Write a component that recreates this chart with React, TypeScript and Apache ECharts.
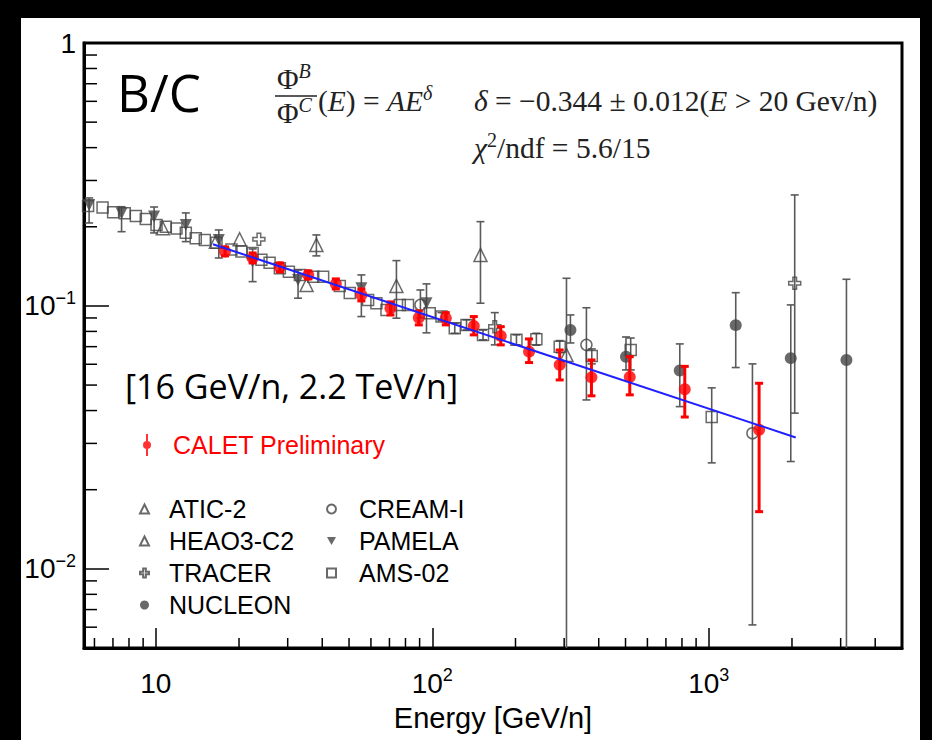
import React, { useEffect, useRef } from 'react';
import * as echarts from 'echarts';

// ---- axis ranges and minor tick positions ----
const X_RANGE = [5.5, 5000];
const Y_RANGE = [0.005, 1];
const X_MINOR = [6, 7, 8, 9, 20, 30, 40, 50, 60, 70, 80, 90, 200, 300, 400, 500, 600, 700, 800, 900, 2000, 3000, 4000];
const Y_MINOR = [0.006, 0.007, 0.008, 0.009, 0.02, 0.03, 0.04, 0.05, 0.06, 0.07, 0.08, 0.09, 0.2, 0.3, 0.4, 0.5, 0.6, 0.7, 0.8, 0.9];

// ---- B/C ratio measurements: points [E (GeV/n), B/C], error bars [E, low, high] ----
const caletPts = [
  [17.8, 0.161], [22.4, 0.152], [28.1, 0.1404], [35.6, 0.1312], [44.8, 0.1213], [55.4, 0.110],
  [70.6, 0.098], [89.4, 0.0902], [111.9, 0.0898], [141.3, 0.0839], [176.9, 0.0769], [223.9, 0.067],
  [289, 0.0597], [376.5, 0.0535], [518, 0.0537], [819, 0.0482], [1521, 0.0338],
];
const caletErr = [
  [17.8, 0.155, 0.1676], [22.4, 0.1457, 0.159], [28.1, 0.1347, 0.1457], [35.6, 0.1267, 0.1358],
  [44.8, 0.116, 0.1267], [55.4, 0.1045, 0.116], [70.6, 0.0924, 0.1036], [89.4, 0.0847, 0.0957],
  [111.9, 0.0847, 0.0943], [141.3, 0.0776, 0.0911], [176.9, 0.0711, 0.0834], [223.9, 0.0609, 0.0749],
  [289, 0.0523, 0.068], [376.5, 0.0455, 0.0623], [518, 0.0459, 0.0641], [819, 0.0378, 0.0589],
  [1521, 0.0165, 0.0508],
];

const amsPts = [
  [5.69, 0.240], [6.42, 0.237], [7.01, 0.227], [7.72, 0.225], [8.47, 0.220], [9.2, 0.214],
  [10.06, 0.203], [10.87, 0.200], [11.88, 0.197], [12.84, 0.190], [13.95, 0.181], [15.04, 0.178],
  [16.58, 0.174], [18.78, 0.164], [20.4, 0.161], [22.4, 0.159], [24.1, 0.150], [25.8, 0.146],
  [28.1, 0.139], [30.3, 0.135], [33.2, 0.131], [37.1, 0.129], [40.3, 0.129], [46.3, 0.119],
  [50.3, 0.112], [58.6, 0.1054], [62.8, 0.1024], [68.3, 0.0966], [76.3, 0.1009], [81.7, 0.1009],
  [97.9, 0.0938], [108, 0.0911], [120.6, 0.0823], [133, 0.0847], [152.6, 0.0776], [201.6, 0.0743],
  [238, 0.0747], [289, 0.070], [377.5, 0.0645], [522, 0.068], [1025, 0.0378],
];
const amsErr = [
  [108, 0.0879, 0.0943], [120.6, 0.0787, 0.0859], [133, 0.081, 0.0885], [152.6, 0.0743, 0.081],
  [201.6, 0.0711, 0.0776], [238, 0.0709, 0.0787], [289, 0.0664, 0.0738], [377.5, 0.0602, 0.0686],
  [522, 0.0571, 0.0755], [1025, 0.0253, 0.0488],
];

const pamelaPts = [
  [5.74, 0.2421], [7.52, 0.2252], [9.86, 0.2186], [12.84, 0.2032], [16.9, 0.1782],
  [22.4, 0.1474], [32.7, 0.1256], [55.4, 0.1168], [95.3, 0.1024],
];
const pamelaErr = [
  [5.74, 0.2068, 0.2574], [7.52, 0.1916, 0.2384], [9.86, 0.1895, 0.2378], [12.84, 0.1756, 0.2258],
  [16.9, 0.1522, 0.1945], [22.4, 0.1237, 0.1647], [32.7, 0.107, 0.137], [55.4, 0.0911, 0.1312],
  [95.3, 0.079, 0.1213],
];

const aticPts = [[20.1, 0.1793], [38.1, 0.1706], [74.2, 0.1191], [149.4, 0.1563], [305.8, 0.0651]];
const aticErr = [[38.1, 0.155, 0.1862], [74.2, 0.0898, 0.1487], [149.4, 0.1024, 0.2092], [305.8, 0.003, 0.1274]];

const heaoPts = [[10.6, 0.1974], [16.5, 0.1756], [35.1, 0.1202]];

const tracerPts = [[23.6, 0.1793], [168.3, 0.0834], [2046, 0.122]];
const tracerErr = [[168.3, 0.0711, 0.0943], [2046, 0.0391, 0.2643]];

const creamPts = [[90.6, 0.1009], [361, 0.0711], [1439, 0.0328]];
const creamErr = [[90.6, 0.09, 0.115], [361, 0.0439, 0.0984], [1439, 0.00612, 0.0602]];

const nucleonPts = [[316, 0.081], [502, 0.0641], [785.6, 0.0568], [1252, 0.0845], [1980, 0.0633], [3148, 0.0623]];
const nucleonErr = [
  [316, 0.0723, 0.0924], [502, 0.0571, 0.0762], [785.6, 0.0414, 0.0717],
  [1252, 0.0583, 0.1123], [1980, 0.0256, 0.1009], [3148, 0.003, 0.1263],
];

// power-law fit end points
const fitLine = [[16.1, 0.1716], [2063, 0.0316]];

// ---- styling ----
const SANS = "'Liberation Sans', Arial, Helvetica, sans-serif";
const SERIF = "'Liberation Serif', 'DejaVu Serif', serif";
const SLIDE = "'Open Sans', 'Noto Sans', sans-serif";
const GRAY = '#444';
const BAR_GRAY = '#5a5a5a';
const RED = '#ff0000';

const DOWN_TRI = 'path://M0,0 L10,0 L5,9 Z';
const PLUS = 'path://M3.5,0 L6.5,0 L6.5,3.5 L10,3.5 L10,6.5 L6.5,6.5 L6.5,10 L3.5,10 L3.5,6.5 L0,6.5 L0,3.5 L3.5,3.5 Z';
const CALET_ICON = 'path://M3,0 L5,0 L5,22 L3,22 Z M0,11 A4,4 0 1,1 8,11 A4,4 0 1,1 0,11 Z';

const powLabel = (v: number) => {
  const p = Math.log10(v);
  const r = Math.round(p);
  if (Math.abs(p - r) > 1e-6) return '';
  if (r === 0) return '{b|1}';
  if (r === 1) return '{b|10}';
  return `{b|10}{s|${r < 0 ? '\u2212' + -r : r}}`;
};
const labelRich = {
  b: { fontFamily: SANS, fontSize: 28, lineHeight: 34, color: '#000' },
  s: { fontFamily: SANS, fontSize: 18, lineHeight: 20, color: '#000', verticalAlign: 'top' },
};

function errorBars(name: string, data: number[][], color: string, width: number, cap: number, z: number) {
  return {
    type: 'custom',
    name,
    data,
    z,
    clip: true,
    silent: true,
    encode: { x: 0, y: [1, 2] },
    renderItem: (_p: any, api: any) => {
      const e = api.value(0);
      const top = api.coord([e, api.value(2)]);
      const bot = api.coord([e, api.value(1)]);
      const h = cap / 2;
      const style = { stroke: color, lineWidth: width };
      return {
        type: 'group',
        children: [
          { type: 'line', shape: { x1: top[0], y1: top[1], x2: bot[0], y2: bot[1] }, style },
          { type: 'line', shape: { x1: top[0] - h, y1: top[1], x2: top[0] + h, y2: top[1] }, style },
          { type: 'line', shape: { x1: bot[0] - h, y1: bot[1], x2: bot[0] + h, y2: bot[1] }, style },
        ],
      };
    },
  };
}

function markers(name: string, data: number[][], symbol: string, size: number, filled: boolean, color: string, z: number) {
  return {
    type: 'scatter',
    name,
    data,
    symbol,
    symbolSize: size,
    z,
    itemStyle: filled
      ? { color, borderWidth: 0 }
      : { color: 'transparent', borderColor: color, borderWidth: 1.5 },
    emphasis: { disabled: true },
  };
}

function minorTicks(values: number[][], dx: number, dy: number) {
  return {
    type: 'custom',
    data: values,
    silent: true,
    clip: false,
    z: 20,
    renderItem: (_p: any, api: any) => {
      const pt = api.coord([api.value(0), api.value(1)]);
      return {
        type: 'line',
        shape: { x1: pt[0], y1: pt[1], x2: pt[0] + dx, y2: pt[1] + dy },
        style: { stroke: '#000', lineWidth: 1.5 },
      };
    },
  };
}

const MFS = 29.5;
const mathRich: any = {
  r: { fontFamily: SERIF, fontSize: MFS, fill: '#222', lineHeight: 36 },
  i: { fontFamily: SERIF, fontSize: MFS, fontStyle: 'italic', fill: '#222', lineHeight: 36 },
  sup: { fontFamily: SERIF, fontSize: 20, fontStyle: 'italic', fill: '#222', lineHeight: 18, verticalAlign: 'top' },
  supr: { fontFamily: SERIF, fontSize: 20, fill: '#222', lineHeight: 18, verticalAlign: 'top' },
};

function mathText(text: string, x: number, y: number) {
  return { type: 'text', x, y, style: { text, rich: mathRich, verticalAlign: 'middle', align: 'left' }, z: 30 };
}

const legendText = { color: '#000', fontFamily: SANS, fontSize: 25, lineHeight: 32 };

const option: any = {
  animation: false,
  backgroundColor: '#fff',
  grid: { left: 84, top: 43, right: 30, bottom: 92, show: true, borderColor: '#000', borderWidth: 3, containLabel: false, outerBoundsMode: 'none' },
  xAxis: {
    type: 'log',
    logBase: 10,
    min: X_RANGE[0],
    max: X_RANGE[1],
    splitNumber: 3,
    axisLine: { show: true, lineStyle: { color: '#000', width: 3 } },
    axisTick: { show: true, inside: true, length: 20, lineStyle: { color: '#000', width: 1.5 } },
    axisLabel: { margin: 18, formatter: powLabel, rich: labelRich, color: '#000' },
    splitLine: { show: false },
    name: 'Energy [GeV/n]',
    nameLocation: 'middle',
    nameGap: 55,
    nameTextStyle: { fontFamily: SANS, fontSize: 29, color: '#000' },
  },
  yAxis: {
    type: 'log',
    logBase: 10,
    min: Y_RANGE[0],
    max: Y_RANGE[1],
    splitNumber: 3,
    axisLine: { show: true, lineStyle: { color: '#000', width: 3 } },
    axisTick: { show: true, inside: true, length: 25, lineStyle: { color: '#000', width: 1.5 } },
    axisLabel: { margin: 8, formatter: powLabel, rich: labelRich, color: '#000' },
    splitLine: { show: false },
  },
  legend: [
    {
      data: [{ name: 'CALET Preliminary', icon: CALET_ICON }],
      left: 143, top: 429, padding: 0, itemWidth: 8, itemHeight: 22, selectedMode: false,
      textStyle: { ...legendText, color: RED, padding: [0, 0, 0, 17] },
    },
    {
      data: ['ATIC-2', 'HEAO3-C2', 'TRACER', 'NUCLEON'],
      orient: 'vertical', left: 139, top: 493, padding: 0, itemGap: 0, itemWidth: 9, itemHeight: 9, selectedMode: false,
      textStyle: { ...legendText, padding: [0, 0, 0, 15] },
    },
    {
      data: ['CREAM-I', 'PAMELA', 'AMS-02'],
      orient: 'vertical', left: 326, top: 493, padding: 0, itemGap: 0, itemWidth: 9, itemHeight: 9, selectedMode: false,
      textStyle: { ...legendText, padding: [0, 0, 0, 18] },
    },
  ],
  series: [
    markers('CALET Preliminary', caletPts, 'circle', 12, true, RED, 12),
    markers('ATIC-2', aticPts, 'triangle', 13, false, GRAY, 6),
    markers('HEAO3-C2', heaoPts, 'triangle', 13, false, GRAY, 6),
    markers('TRACER', tracerPts, PLUS, 12, false, GRAY, 6),
    markers('NUCLEON', nucleonPts, 'circle', 12, true, GRAY, 6),
    markers('CREAM-I', creamPts, 'circle', 11, false, GRAY, 6),
    markers('PAMELA', pamelaPts, DOWN_TRI, 12, true, GRAY, 6),
    markers('AMS-02', amsPts, 'rect', 11, false, GRAY, 6),
    errorBars('ATIC-2', aticErr, BAR_GRAY, 1.6, 8, 4),
    errorBars('TRACER', tracerErr, BAR_GRAY, 1.6, 8, 4),
    errorBars('NUCLEON', nucleonErr, BAR_GRAY, 1.6, 8, 4),
    errorBars('CREAM-I', creamErr, BAR_GRAY, 1.6, 8, 4),
    errorBars('PAMELA', pamelaErr, BAR_GRAY, 1.6, 8, 4),
    errorBars('AMS-02', amsErr, BAR_GRAY, 1.6, 8, 4),
    errorBars('CALET Preliminary', caletErr, RED, 3, 8, 10),
    {
      type: 'line',
      name: 'fit',
      data: fitLine,
      symbol: 'none',
      z: 14,
      lineStyle: { color: '#1f1fff', width: 2 },
      emphasis: { disabled: true },
    },
    minorTicks(X_MINOR.map((v) => [v, Y_RANGE[0]]), 0, -10),
    minorTicks(Y_MINOR.map((v) => [X_RANGE[0], v]), 13, 0),
  ],
  graphic: {
    elements: [
      { type: 'text', x: 117, y: 92, z: 30, style: { text: 'B/C', fontFamily: SLIDE, fontSize: 51, fill: '#000', verticalAlign: 'middle' } },
      { type: 'text', x: 125, y: 386, z: 30, style: { text: '[16 GeV/n, 2.2 TeV/n]', fontFamily: SLIDE, fontSize: 34, fill: '#000', verticalAlign: 'middle' } },
      mathText('{r|\u03A6}{sup|B}', 277, 79),
      { type: 'line', z: 30, shape: { x1: 275, y1: 96, x2: 317, y2: 96 }, style: { stroke: '#222', lineWidth: 1.5 } },
      mathText('{r|\u03A6}{sup|C}', 277, 113),
      mathText('{r|(}{i|E}{r|) = }{i|AE}{sup|\u03B4}', 318, 101),
      mathText('{i|\u03B4}{r| = \u22120.344 \u00B1 0.012(}{i|E}{r| > 20 Gev/n)}', 474, 101),
      mathText('{i|\u03C7}{supr|2}{r|/ndf = 5.6/15}', 474, 148),
    ],
  },
};

export default function App() {
  const ref = useRef<HTMLDivElement>(null);
  useEffect(() => {
    if (!ref.current) return;
    const chart = echarts.init(ref.current, null, { renderer: 'svg' });
    chart.setOption(option);
    return () => chart.dispose();
  }, []);
  return (
    <div style={{ position: 'fixed', left: 0, top: 0, width: 932, height: 740, overflow: 'hidden', background: '#fff' }}>
      <div ref={ref} style={{ position: 'absolute', left: 0, top: 0, width: 932, height: 740 }} />
      <div style={{ position: 'absolute', left: 0, top: 0, width: 21, height: 740, background: '#000' }} />
      <div style={{ position: 'absolute', left: 920, top: 0, width: 12, height: 740, background: '#000' }} />
      <div style={{ position: 'absolute', left: 0, top: 0, width: 932, height: 18, background: '#000' }} />
    </div>
  );
}
